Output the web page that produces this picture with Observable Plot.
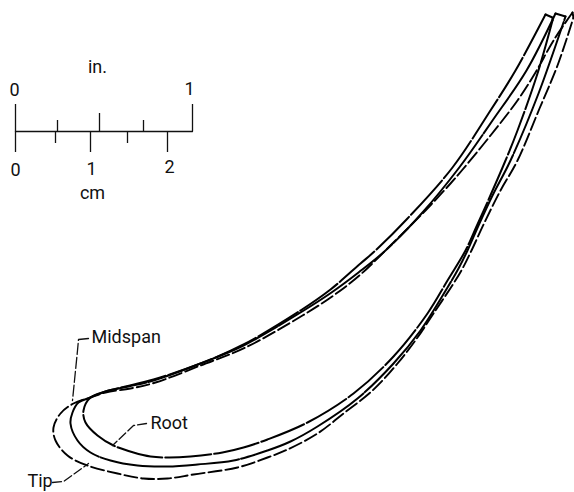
<!DOCTYPE html>
<html><head><meta charset="utf-8">
<script src="https://cdn.jsdelivr.net/npm/d3@7"></script>
<script src="https://cdn.jsdelivr.net/npm/@observablehq/plot@0.6"></script>
<style>html,body{margin:0;padding:0;background:#fff}svg{display:block}</style>
</head><body><div id="chart"></div>
<script>
const rootProfile = [[545,14],[515,70],[488,113],[452,167],[407,218],[375,250],[360,263],[330,289],[300,310],[243,344],[200,363],[153,379],[125,386],[105,391],[90,397],[83,410],[85,422],[97,435],[113,445],[133,452],[150,456],[168,457],[190,456],[222,452],[243,447],[267,439],[307,422],[353,393],[393,356],[427,313],[447,280],[465,250],[476,226],[489,197],[505,160],[517,130],[537,73],[552,20]];
const midspanProfile = [[555,13],[526,70],[492,120],[458,168],[422,212],[385,250],[358,272],[331,292],[300,312],[243,345],[200,363],[153,380],[128,386],[105,391],[90,397],[78,402],[72,412],[70,423],[77,440],[90,452],[110,460],[137,465],[167,466],[197,464],[233,460],[267,450],[290,441],[317,426],[357,398],[393,363],[420,330],[447,287],[458,268],[467,250],[478,225],[492,195],[510,160],[538,93],[565,16]];
const tipProfile = [[572,12],[553,40],[535,72],[517,100],[490,135],[463,168],[450,183],[425,210],[395,240],[360,274],[333,295],[302,315],[245,347],[200,365],[155,382],[130,388],[105,392],[90,397],[73,403],[60,413],[53,427],[55,440],[67,455],[87,465],[117,473],[143,478],[167,478],[193,474],[237,467],[267,457],[287,449],[317,433],[343,413],[372,390],[397,363],[417,337],[433,313],[453,283],[462,268],[471,250],[484,222],[500,190],[517,160],[539,108],[557,65],[573,17]];
const trailingEdges = [[[545,14],[552,17],[552,20]],[[555,13],[565,16]],[[572,12],[573,17]]];
const midspanLeader = [[88,338],[78,339],[77,350],[72,400]];
const rootLeader = [[146,423],[133,425],[112,445]];
const tipLeader = [[52,482],[63,481],[88,463]];
const scaleBase = [[15,131],[192,131]];
const inchTicks = [[15,104],[57,120],[99,113],[143,120],[192,104]];
const cmTicks = [[15,152],[55,143],[90,152],[127,143],[167,152]];
const scaleLabels = [["in.",97,67],["0",14,90],["1",189,89],["0",15,170],["1",91,169],["2",169,167],["cm",92,193]];
const calloutLabels = [["Midspan",91,337],["Root",150,423],["Tip",27,481]];
const font = "Roboto,'Liberation Sans',sans-serif";
const px = d => d[0], py = d => d[1];
const chart = Plot.plot({
  width: 574, height: 492, margin: 0,
  style: {background: "#fff"},
  x: {domain: [0, 574], axis: null},
  y: {domain: [492, 0], axis: null},
  marks: [
    Plot.line(scaleBase, {x: px, y: py, stroke: "#111", strokeWidth: 1.3}),
    Plot.ruleX(inchTicks, {x: px, y1: () => 131, y2: py, stroke: "#111", strokeWidth: 1.3}),
    Plot.ruleX(cmTicks, {x: px, y1: () => 131, y2: py, stroke: "#111", strokeWidth: 1.3}),
    Plot.line(rootProfile, {x: px, y: py, curve: "catmull-rom", stroke: "#000", strokeWidth: 2, strokeDasharray: "46 3"}),
    Plot.line(midspanProfile, {x: px, y: py, curve: "catmull-rom", stroke: "#000", strokeWidth: 2, strokeDasharray: "140 2"}),
    Plot.line(tipProfile, {x: px, y: py, curve: "catmull-rom", stroke: "#000", strokeWidth: 1.9, strokeDasharray: "13 4"}),
    ...trailingEdges.map(e => Plot.line(e, {x: px, y: py, stroke: "#000", strokeWidth: 2})),
    Plot.line(midspanLeader, {x: px, y: py, stroke: "#111", strokeWidth: 1.3, strokeDasharray: "11 3"}),
    Plot.line(rootLeader, {x: px, y: py, stroke: "#111", strokeWidth: 1.3, strokeDasharray: "9 3"}),
    Plot.line(tipLeader, {x: px, y: py, stroke: "#111", strokeWidth: 1.3, strokeDasharray: "9 3"}),
    Plot.text(scaleLabels, {x: d => d[1], y: d => d[2], text: d => d[0], fontFamily: font, fontSize: 18, fill: "#111", textAnchor: "middle"}),
    Plot.text(calloutLabels, {x: d => d[1], y: d => d[2], text: d => d[0], fontFamily: font, fontSize: 18, fill: "#111", textAnchor: "start"})
  ]
});
document.getElementById("chart").append(chart);
</script></body></html>
